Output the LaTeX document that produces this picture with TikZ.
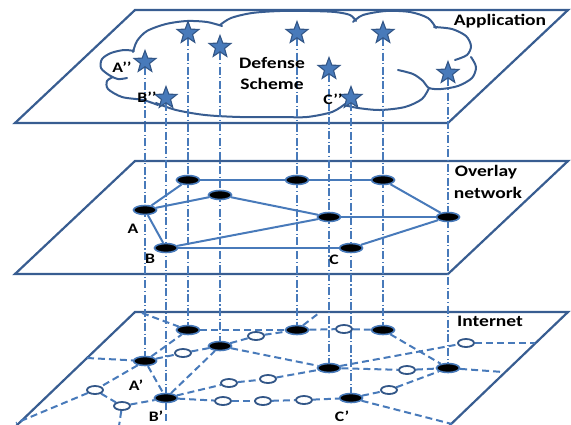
\documentclass[tikz,border=0pt]{standalone}
\usepackage{fontspec}
\usepackage{graphicx}
\setmainfont{Carlito}
\usetikzlibrary{shapes.geometric}
\definecolor{planeblue}{RGB}{56,93,145}
\definecolor{netblue}{RGB}{72,122,186}
\definecolor{stardark}{RGB}{50,86,135}
\pgfdeclarelayer{bg}
\pgfsetlayers{bg,main}
\newcommand{\wl}[1]{\scalebox{1.22}[1]{#1}}
\tikzset{
  plane/.style={draw=planeblue, line width=2.2pt, line join=miter},
  cloudline/.style={draw=planeblue, line width=2pt, line cap=round},
  vline/.style={draw=netblue, line width=1.1pt, dash pattern=on 8pt off 2.5pt on 1.2pt off 2.5pt},
  ovl/.style={draw=netblue, line width=2pt},
  inet/.style={draw=netblue, line width=2pt, dash pattern=on 7pt off 4pt},
  starnode/.style={star, star points=5, star point ratio=2.4, minimum size=23pt, inner sep=0pt, fill=netblue, draw=stardark, line width=1.1pt},
  peer/.style={ellipse, fill=black, draw=netblue, line width=1.6pt, minimum width=23pt, minimum height=9pt, inner sep=0pt},
  router/.style={ellipse, fill=white, draw=stardark, line width=1.8pt, minimum width=16pt, minimum height=8pt, inner sep=0pt},
  title/.style={font=\fontsize{16}{18}\selectfont\bfseries, inner sep=0pt},
  lbl/.style={font=\fontsize{14.5}{16}\selectfont\bfseries, inner sep=0pt}
}
\begin{document}
\begin{tikzpicture}[x=1pt, y=-1pt]
\useasboundingbox (0,0) rectangle (571,424);
% stars (application layer)
\node[starnode] (s1) at (145,62) {};
\node[starnode] (s2) at (166,98) {};
\node[starnode] (s3) at (188,33) {};
\node[starnode] (s4) at (220,47) {};
\node[starnode] (s5) at (297,33) {};
\node[starnode] (s6) at (329,69) {};
\node[starnode] (s7) at (351,98) {};
\node[starnode] (s8) at (383,33) {};
\node[starnode] (s9) at (448,73) {};
% overlay nodes
\node[peer] (mA) at (145,210) {};
\node[peer] (mB) at (166,248) {};
\node[peer] (m1) at (188,180) {};
\node[peer] (m2) at (220,195) {};
\node[peer] (m5) at (297,180) {};
\node[peer] (m6) at (383,180) {};
\node[peer] (m7) at (329,217) {};
\node[peer] (m8) at (448,217) {};
\node[peer] (mC) at (351,248) {};
% internet nodes
\node[peer] (bA) at (145,361) {};
\node[peer] (bB) at (166,398) {};
\node[peer] (b1) at (188,330) {};
\node[peer] (b2) at (220,346) {};
\node[peer] (b5) at (297,330) {};
\node[peer] (b6) at (383,330) {};
\node[peer] (b7) at (329,368) {};
\node[peer] (b8) at (448,368) {};
\node[peer] (bC) at (351,398) {};
\node[router] (w1) at (183,353) {};
\node[router] (w2) at (256,336) {};
\node[router] (w3) at (95,390) {};
\node[router] (w4) at (122,406) {};
\node[router] (w5) at (229,383) {};
\node[router] (w6) at (268,379) {};
\node[router] (w7) at (223,401) {};
\node[router] (w8) at (263,401) {};
\node[router] (w9) at (344,329) {};
\node[router] (w10) at (466,343) {};
\node[router] (w11) at (407,370) {};
\node[router] (w12) at (389,390) {};
\node[router] (w13) at (304,400) {};
% free ends
\coordinate (fTL) at (142,313);
\coordinate (fTop) at (319,313);
\coordinate (fL) at (87,358);
\coordinate (fR1) at (535,343);
\coordinate (fR2) at (503,372);
\coordinate (fBL) at (16,423);
\coordinate (fB1) at (119,426);
\coordinate (fB2) at (166,426);
\coordinate (fBR) at (452,424);
% labels
\node[title] (tApp) at (500,21) {\wl{Application}};
\node[title] (tOv1) at (486,172) {\wl{Overlay}};
\node[title] (tOv2) at (488,193) {\wl{network}};
\node[title] (tInt) at (490,321) {\wl{Internet}};
\node[title] (tDef) at (272,63) {\wl{Defense}};
\node[title] (tSch) at (272,84) {\wl{Scheme}};
\node[lbl] (lA2) at (122,67) {\wl{A’’}};
\node[lbl] (lB2) at (147,97) {\wl{B’’}};
\node[lbl] (lC2) at (333,99) {\wl{C’’}};
\node[lbl] (lA) at (133,229) {\wl{A}};
\node[lbl] (lB) at (150,259) {\wl{B}};
\node[lbl] (lC) at (334,260) {\wl{C}};
\node[lbl] (lA1) at (136,385) {\wl{A’}};
\node[lbl] (lB1) at (156,416) {\wl{B’}};
\node[lbl] (lC1) at (342,416) {\wl{C’}};
\begin{pgfonlayer}{bg}
% planes
\draw[plane] (15,123) -- (448,123) -- (568,10) -- (135,10) -- cycle;
\draw[plane] (15,274) -- (448,274) -- (568,161) -- (135,161) -- cycle;
\draw[plane] (15,427) -- (448,427) -- (568,312) -- (135,312) -- cycle;
% cloud
\draw[cloudline]
  plot[smooth] coordinates {(127,78) (118,79) (109,75) (101,68) (102,59) (111,53) (124,50) (134,51)}
  plot[smooth] coordinates {(133,52) (137,41) (147,31) (166,24) (187,21) (207,22) (222,26)}
  plot[smooth] coordinates {(220,25) (231,18) (252,13) (280,11) (310,11) (335,12) (350,15) (356,21)}
  plot[smooth] coordinates {(353,22) (363,15) (386,11) (410,12) (428,18) (436,28)}
  plot[smooth] coordinates {(434,27) (452,29) (466,36) (471,46) (467,55) (455,60)}
  plot[smooth] coordinates {(398,70) (413,74) (423,81) (429,88) (441,89) (458,86) (472,78) (476,67) (471,57)}
  plot[smooth] coordinates {(429,88) (422,99) (405,107) (380,110) (358,108) (344,105)}
  plot[smooth] coordinates {(345,104) (332,112) (307,117) (280,117) (240,117) (205,115) (176,110) (156,103)}
  plot[smooth] coordinates {(158,105) (143,100) (122,97) (108,89) (107,81) (113,77)};
% vertical mapping lines
\draw[vline] (s1) -- (bA);
\draw[vline] (s2) -- (bB);
\draw[vline] (s3) -- (b1);
\draw[vline] (s4) -- (b2);
\draw[vline] (s5) -- (b5);
\draw[vline] (s6) -- (b7);
\draw[vline] (s7) -- (bC);
\draw[vline] (s8) -- (b6);
\draw[vline] (s9) -- (b8);
% overlay links
\draw[ovl] (mA) -- (m1);
\draw[ovl] (mA) -- (m2);
\draw[ovl] (mA) -- (mB);
\draw[ovl] (m1) -- (m5);
\draw[ovl] (m5) -- (m6);
\draw[ovl] (m6) -- (m8);
\draw[ovl] (m2) -- (m7);
\draw[ovl] (mB) -- (m7);
\draw[ovl] (m7) -- (m8);
\draw[ovl] (mB) -- (mC);
\draw[ovl] (mC) -- (m8);
% internet links
\draw[inet] (fTL) -- (b1);
\draw[inet] (b1) -- (b5);
\draw[inet] (b5) -- (w9);
\draw[inet] (w9) -- (b6);
\draw[inet] (b5) -- (fTop);
\draw[inet] (bA) -- (b1);
\draw[inet] (bA) -- (w1);
\draw[inet] (w1) -- (b2);
\draw[inet] (fL) -- (bA);
\draw[inet] (bA) -- (bB);
\draw[inet] (bA) -- (w3);
\draw[inet] (w3) -- (fBL);
\draw[inet] (w3) -- (w4);
\draw[inet] (w4) -- (bB);
\draw[inet] (w4) -- (fB1);
\draw[inet] (bB) -- (fB2);
\draw[inet] (bB) -- (b2);
\draw[inet] (bB) -- (w5);
\draw[inet] (w5) -- (w6);
\draw[inet] (w6) -- (b7);
\draw[inet] (b7) -- (w10);
\draw[inet] (w10) -- (fR1);
\draw[inet] (b2) -- (w2);
\draw[inet] (w2) -- (b5);
\draw[inet] (b2) -- (b7);
\draw[inet] (b6) -- (b8);
\draw[inet] (b7) -- (w11);
\draw[inet] (w11) -- (b8);
\draw[inet] (b8) -- (fR2);
\draw[inet] (bC) -- (w12);
\draw[inet] (w12) -- (b8);
\draw[inet] (bB) -- (w7);
\draw[inet] (w7) -- (w8);
\draw[inet] (w8) -- (w13);
\draw[inet] (w13) -- (bC);
\draw[inet] (bC) -- (fBR);
\end{pgfonlayer}
\end{tikzpicture}
\end{document}
